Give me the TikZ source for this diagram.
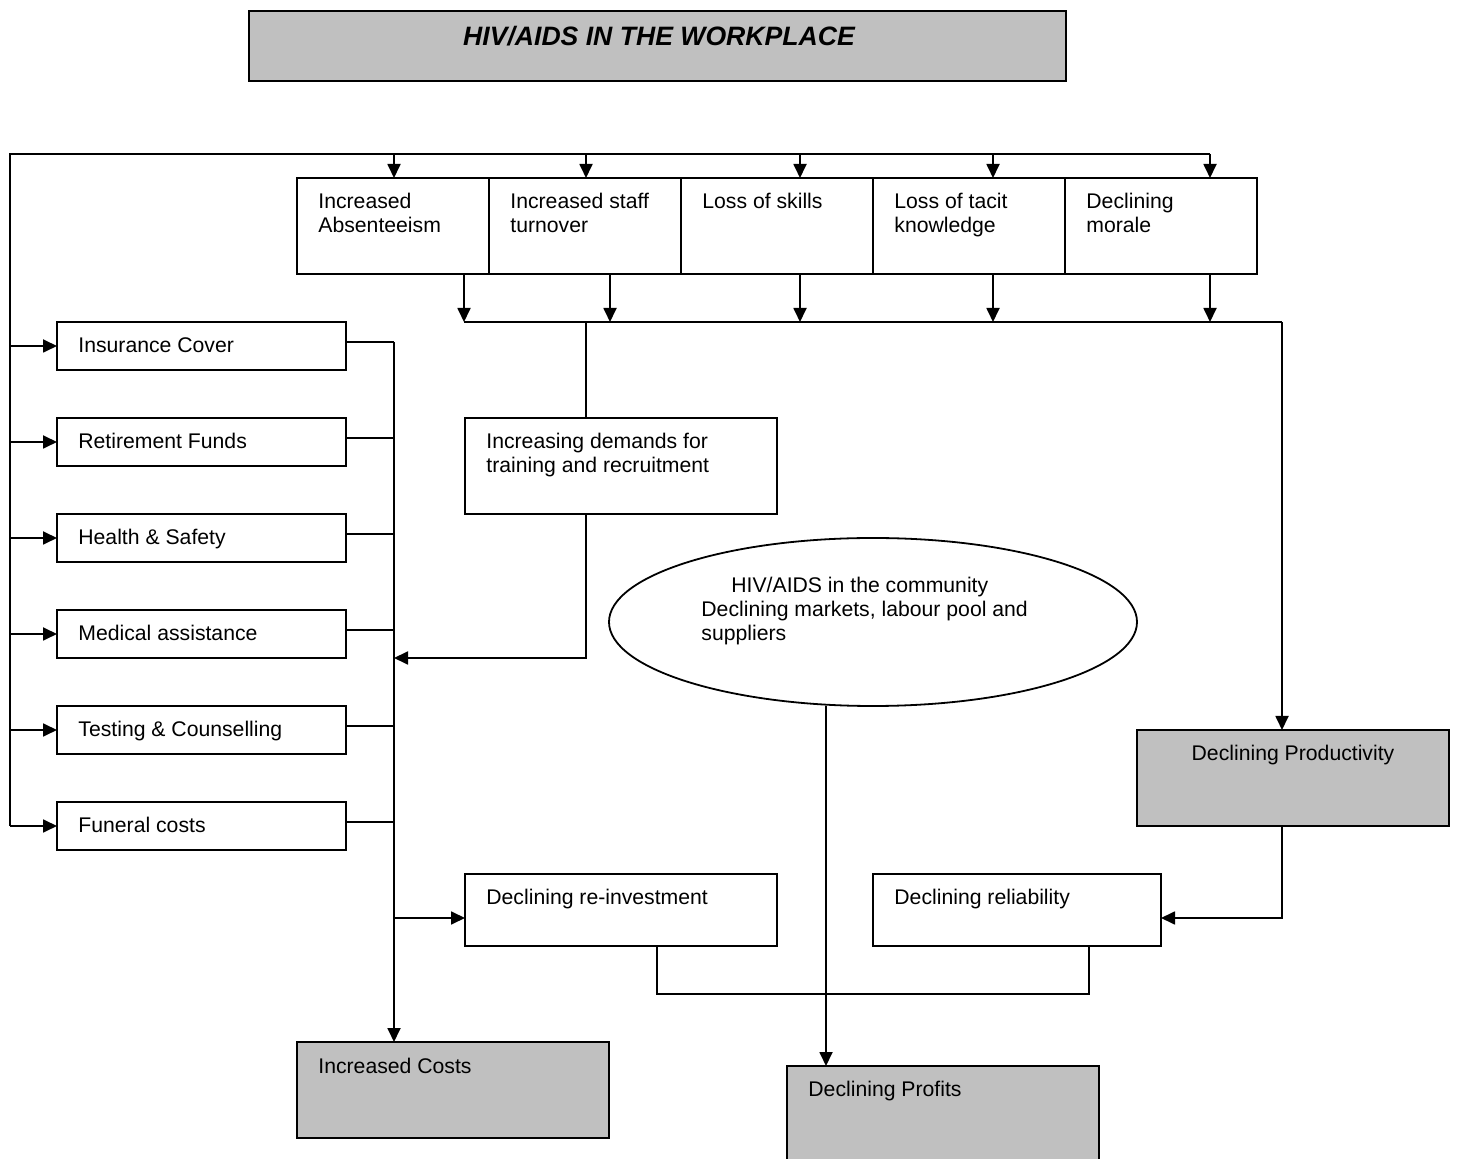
\documentclass[tikz,border=0pt]{standalone}
\usepackage{fontspec}
\setmainfont{Liberation Sans}
\usetikzlibrary{arrows.meta,calc,fit,shapes.geometric}
\definecolor{boxgray}{RGB}{192,192,192}
\newcommand{\twol}[1]{\begin{tabular}[t]{@{}l@{}}#1\end{tabular}}
\tikzset{
  boxn/.style={draw, line width=0.9pt, inner sep=0pt, outer sep=0pt},
  grayn/.style={boxn, fill=boxgray},
  lbl/.style={anchor=base west, inner sep=0pt, font=\fontsize{10.6}{12}\selectfont},
  conn/.style={line width=0.9pt},
  arr/.style={conn, -{Triangle[length=7pt,width=6.5pt]}},
}
\begin{document}
\begin{tikzpicture}[x=0.5pt,y=-0.5pt]
\useasboundingbox (0,0) rectangle (1457,1159);
% title
\node[grayn, fit={(249,11) (1066,81)}] (title) {};
\node[anchor=base, inner sep=0pt, font=\fontsize{13.3}{16}\selectfont\bfseries\itshape] (titletxt) at ($(title.north)+(1.5,35)$) {HIV/AIDS IN THE WORKPLACE};
% top row
\node[boxn, fit={(297,178) (489,274)}] (abs) {};
\node[boxn, fit={(489,178) (681,274)}] (sto) {};
\node[boxn, fit={(681,178) (873,274)}] (skl) {};
\node[boxn, fit={(873,178) (1065,274)}] (tac) {};
\node[boxn, fit={(1065,178) (1257,274)}] (mor) {};
\node[lbl] at ($(abs.north west)+(21,31)$) {\twol{Increased\\Absenteeism}};
\node[lbl] at ($(sto.north west)+(21,31)$) {\twol{Increased staff\\turnover}};
\node[lbl] at ($(skl.north west)+(21,31)$) {Loss of skills};
\node[lbl] at ($(tac.north west)+(21,31)$) {\twol{Loss of tacit\\knowledge}};
\node[lbl] at ($(mor.north west)+(21,31)$) {\twol{Declining\\morale}};
% left column
\node[boxn, fit={(57,322) (346,370)}] (ins) {};
\node[boxn, fit={(57,418) (346,466)}] (ret) {};
\node[boxn, fit={(57,514) (346,562)}] (hs) {};
\node[boxn, fit={(57,610) (346,658)}] (med) {};
\node[boxn, fit={(57,706) (346,754)}] (tc) {};
\node[boxn, fit={(57,802) (346,850)}] (fun) {};
\node[lbl] at ($(ins.north west)+(21,31)$) {Insurance Cover};
\node[lbl] at ($(ret.north west)+(21,31)$) {Retirement Funds};
\node[lbl] at ($(hs.north west)+(21,31)$) {Health \& Safety};
\node[lbl] at ($(med.north west)+(21,31)$) {Medical assistance};
\node[lbl] at ($(tc.north west)+(21,31)$) {Testing \& Counselling};
\node[lbl] at ($(fun.north west)+(21,31)$) {Funeral costs};
% middle
\node[boxn, fit={(465,418) (777,514)}] (trn) {};
\node[lbl] at ($(trn.north west)+(21,31)$) {\twol{Increasing demands for\\training and recruitment}};
\node[draw, ellipse, line width=0.9pt, inner sep=0pt, minimum width=264pt, minimum height=84pt] (comm) at (873,622) {};
\node[lbl] at ($(comm.center)+(-172,-29)$) {\twol{\hspace*{15pt}HIV/AIDS in the community\\Declining markets, labour pool and\\suppliers}};
\node[grayn, fit={(1137,730) (1449,826)}] (prod) {};
\node[anchor=base, inner sep=0pt, font=\fontsize{10.6}{12}\selectfont] at ($(prod.north)+(0,31)$) {Declining Productivity};
\node[boxn, fit={(465,874) (777,946)}] (reinv) {};
\node[lbl] at ($(reinv.north west)+(21,31)$) {Declining re-investment};
\node[boxn, fit={(873,874) (1161,946)}] (rel) {};
\node[lbl] at ($(rel.north west)+(21,31)$) {Declining reliability};
\node[grayn, fit={(297,1042) (609,1138)}] (icost) {};
\node[lbl] at ($(icost.north west)+(21,31)$) {Increased Costs};
\node[grayn, fit={(787,1066) (1099,1170)}] (prof) {};
\node[lbl] at ($(prof.north west)+(21,30)$) {Declining Profits};
% coordinates
\coordinate (tl) at (10,154);
\coordinate (bl) at (10,826);
\coordinate (a1) at (394,154);
\coordinate (a2) at (586,154);
\coordinate (a3) at (800,154);
\coordinate (a4) at (993,154);
\coordinate (a5) at (1210,154);
\coordinate (b1) at (464,322);
\coordinate (b2) at (610,322);
\coordinate (b3) at (800,322);
\coordinate (b4) at (993,322);
\coordinate (b5) at (1210,322);
\coordinate (br) at (1282,322);
\coordinate (t0) at (586,322);
\coordinate (lt) at (394,342);
\coordinate (lj) at (394,658);
\coordinate (rj) at (394,918);
% feedback loop
\draw[conn] (bl) -- (tl) -- (a5);
\draw[arr] (a1) -- (a1 |- abs.north);
\draw[arr] (a2) -- (a2 |- sto.north);
\draw[arr] (a3) -- (a3 |- skl.north);
\draw[arr] (a4) -- (a4 |- tac.north);
\draw[arr] (a5) -- (a5 |- mor.north);
\foreach \n in {ins,ret,hs,med,tc,fun} {
  \draw[arr] (\n.west -| tl) -- (\n.west);
  \coordinate (r\n) at ([yshift=2pt]\n.east);
  \draw[conn] (r\n) -- (r\n -| lt);
}
% top row down to bus
\draw[arr] (b1 |- abs.south) -- (b1);
\draw[arr] (b2 |- sto.south) -- (b2);
\draw[arr] (b3 |- skl.south) -- (b3);
\draw[arr] (b4 |- tac.south) -- (b4);
\draw[arr] (b5 |- mor.south) -- (b5);
\draw[conn] (b1) -- (br);
\draw[arr] (br) -- (br |- prod.north);
% training
\draw[conn] (t0) -- (t0 |- trn.north);
\draw[arr] (t0 |- trn.south) |- (lj);
% left bus
\draw[arr] (lt) -- (lt |- icost.north);
\draw[arr] (rj) -- (rj -| reinv.west);
% productivity to reliability
\draw[arr] (br |- prod.south) |- (rj -| rel.east);
% join to profits
\coordinate (c1) at ($(reinv.south west)+(192,0)$);
\coordinate (c2) at ($(rel.south west)+(216,0)$);
\draw[conn] (c1) -- ++(0,48) -| (c2);
\coordinate (e0) at ($(comm.south)+(-47,-1)$);
\draw[arr] (e0) -- (e0 |- prof.north);
\end{tikzpicture}
\end{document}
